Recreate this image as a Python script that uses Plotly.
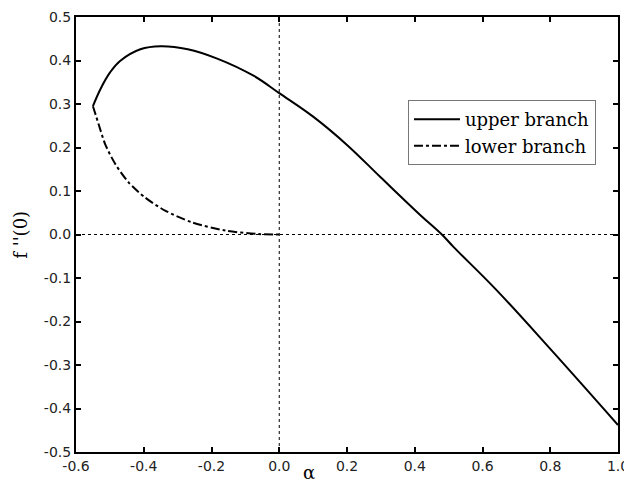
import plotly.graph_objects as go

# upper branch
upper_alpha = [-0.55, -0.528, -0.50, -0.47, -0.41, -0.35, -0.27, -0.185, -0.076, 0.0,
               0.1, 0.2, 0.3, 0.416, 0.48, 0.515, 0.638, 0.8, 1.0]
upper_f = [0.295, 0.334, 0.372, 0.399, 0.426, 0.433, 0.426, 0.405, 0.365, 0.325,
           0.271, 0.206, 0.131, 0.045, 0.0, -0.029, -0.125, -0.263, -0.438]

# lower branch
lower_alpha = [-0.55, -0.533, -0.514, -0.484, -0.445, -0.396, -0.337, -0.258, -0.159, -0.061, 0.0]
lower_f = [0.295, 0.253, 0.208, 0.162, 0.120, 0.085, 0.055, 0.028, 0.009, 0.001, 0.0]

x_ticks = [-0.6, -0.4, -0.2, 0.0, 0.2, 0.4, 0.6, 0.8, 1.0]
x_ticktext = ["-0.6", "-0.4", "-0.2", "0.0", "0.2", "0.4", "0.6", "0.8", "1.0"]
y_ticks = [0.5, 0.4, 0.3, 0.2, 0.1, 0.0, -0.1, -0.2, -0.3, -0.4, -0.5]
y_ticktext = ["0.5", "0.4", "0.3", "0.2", "0.1", "0.0", "-0.1", "-0.2", "-0.3", "-0.4", "-0.5"]

x_title = "α"
y_title = "f ''(0)"

fig = go.Figure()
fig.add_trace(go.Scatter(x=upper_alpha, y=upper_f, mode="lines", name="upper branch",
                         line=dict(color="black", width=2, shape="spline", smoothing=1.1)))
fig.add_trace(go.Scatter(x=lower_alpha, y=lower_f, mode="lines", name="lower branch",
                         line=dict(color="black", width=2, dash="dashdot", shape="spline", smoothing=0.8)))

# dotted reference lines
fig.add_shape(type="line", x0=-0.6, x1=1.0, y0=0, y1=0, xref="x", yref="y",
              line=dict(color="black", width=1, dash="dot"), layer="below")
fig.add_shape(type="line", x0=0, x1=0, y0=-0.5, y1=0.5, xref="x", yref="y",
              line=dict(color="black", width=1, dash="dot"), layer="below")

axis_common = dict(showline=True, linecolor="black", linewidth=2, mirror="ticks",
                   ticks="inside", ticklen=5, tickwidth=1.5, tickcolor="black",
                   showgrid=False, zeroline=False, automargin=False,
                   ticklabeloverflow="allow",
                   tickfont=dict(family="DejaVu Sans", size=14, color="#222222"))

fig.update_xaxes(range=[-0.6, 1.0], tickvals=x_ticks, ticktext=x_ticktext, **axis_common)
fig.update_yaxes(range=[-0.5, 0.5], tickvals=y_ticks, ticktext=y_ticktext, **axis_common)

fig.add_annotation(text=x_title, xref="paper", yref="paper", x=0.43, y=-0.048,
                   xanchor="center", yanchor="middle", showarrow=False,
                   font=dict(family="DejaVu Serif", size=18, color="black"))
fig.add_annotation(text=y_title, xref="paper", yref="paper", x=-0.103, y=0.5,
                   xanchor="center", yanchor="middle", showarrow=False, textangle=-90,
                   font=dict(family="DejaVu Serif", size=18, color="black"))

fig.update_layout(
    width=624, height=488,
    margin=dict(l=76, r=6, t=17, b=36),
    plot_bgcolor="white", paper_bgcolor="white",
    legend=dict(x=0.6125, y=0.809, xanchor="left", yanchor="top",
                bordercolor="#777777", borderwidth=1, bgcolor="white",
                font=dict(family="DejaVu Serif", size=18, color="black"),
                tracegroupgap=0, itemwidth=46),
    showlegend=True,
)

fig.write_html("out.html", config={"displayModeBar": False},
               post_script="document.body.style.margin='0px';")
